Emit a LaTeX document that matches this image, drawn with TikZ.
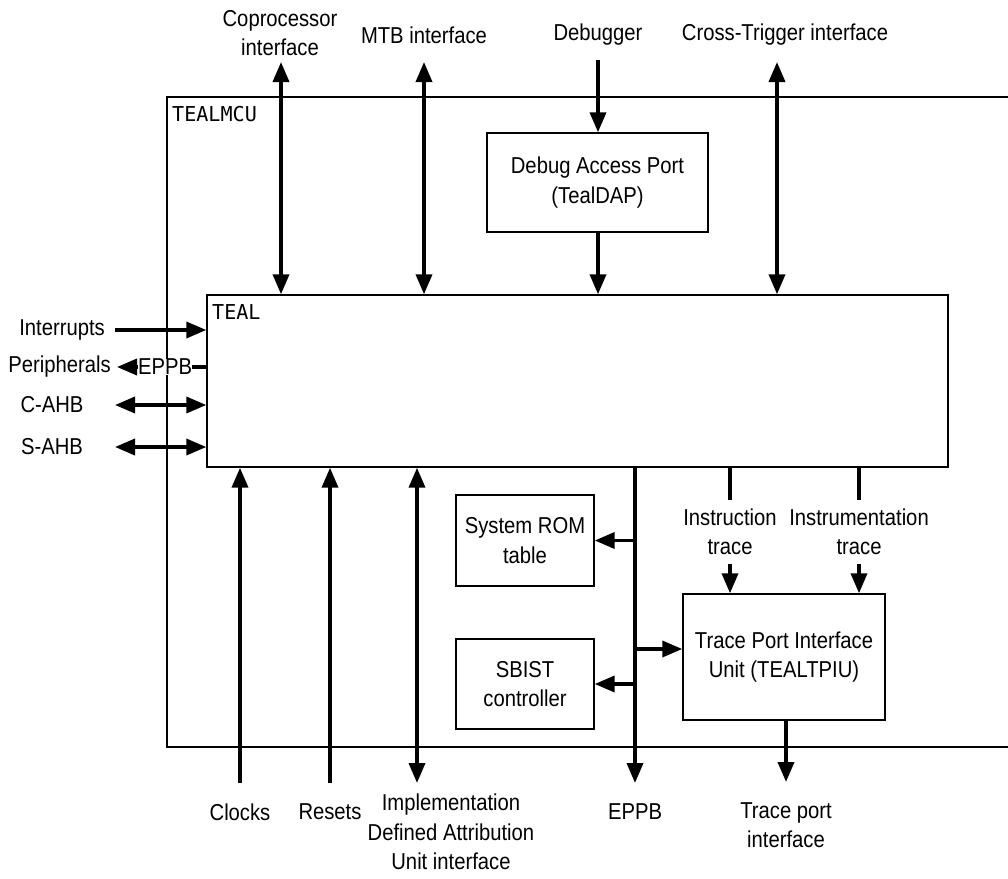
\documentclass[tikz,border=0pt]{standalone}
\usepackage{fontspec}
\setmainfont{Liberation Sans}[FakeStretch=0.88]
\newfontfamily\monofont{DejaVu Sans Mono}[FakeStretch=0.98]
\usetikzlibrary{arrows.meta}
\tikzset{
  lbl/.style={font=\fontsize{23}{29.5}\selectfont, inner sep=0pt, align=center},
  tag/.style={font=\monofont\fontsize{20.5}{22}\selectfont, inner sep=0pt, anchor=north west},
  blk/.style={draw, line width=1.4pt, inner sep=0pt, align=center,
              font=\fontsize{23}{29.5}\selectfont},
  frame/.style={line width=1.4pt},
  bus/.style={line width=3.6pt},
  tip/.style={bus, -{Triangle[length=20pt,width=16pt]}},
  dbl/.style={bus, {Triangle[length=20pt,width=16pt]}-{Triangle[length=20pt,width=16pt]}},
}
\begin{document}
\begin{tikzpicture}[x=1pt,y=-1pt]
\useasboundingbox (0,0) rectangle (1008,878);

% outer subsystem frame (open on the right)
\draw[frame] (1008,97) -- (167,97) -- (167,747) -- (1008,747);
\node[tag] (mcu) at (172,106) {TEALMCU};

% processor core
\node[blk, minimum width=741pt, minimum height=172pt] (teal) at (577.5,381) {};
\node[tag] (tealtag) at (212,304) {TEAL};

% debug access port
\node[blk, minimum width=221pt, minimum height=99pt] (dap) at (597.5,182.5) {Debug Access Port\\(TealDAP)};

% ROM table, SBIST, TPIU
\node[blk, minimum width=138pt, minimum height=91pt] (rom) at (525,540.5) {System ROM\\table};
\node[blk, minimum width=138pt, minimum height=90pt] (sbist) at (525,684) {SBIST\\controller};
\node[blk, minimum width=202pt, minimum height=126pt] (tpiu) at (784,657) {Trace Port Interface\\Unit (TEALTPIU)};

% top interfaces
\node[lbl] (copL) at (280,33) {Coprocessor\\interface};
\node[lbl] (mtbL) at (424,35) {MTB interface};
\node[lbl] (dbgL) at (598,35) {Debugger};
\node[lbl] (ctiL) at (785,35) {Cross-Trigger interface};

\coordinate (copT) at (281,62);
\coordinate (mtbT) at (424,62);
\coordinate (dbgT) at (598,60);
\coordinate (ctiT) at (777,62);

\draw[dbl] (copT) -- (copT |- teal.north);
\draw[dbl] (mtbT) -- (mtbT |- teal.north);
\draw[tip] (dbgT) -- (dbgT |- dap.north);
\draw[tip] (dbgT |- dap.south) -- (dbgT |- teal.north);
\draw[dbl] (ctiT) -- (ctiT |- teal.north);

% left interfaces
\node[lbl, anchor=east] (intL) at (105,330) {Interrupts};
\node[lbl, anchor=east] (perL) at (111,367) {Peripherals};
\node[lbl] (cahbL) at (52,405) {C-AHB};
\node[lbl] (sahbL) at (52,447) {S-AHB};

\coordinate (intE) at (115,330);
\coordinate (perE) at (117,367);
\coordinate (cahbE) at (115,405);
\coordinate (sahbE) at (115,447);

\draw[tip] (intE) -- (intE -| teal.west);
\draw[tip] (perE -| teal.west) -- (perE);
\node[lbl, fill=white, inner sep=0pt] (ppbL) at (165,367) {EPPB};
\draw[dbl] (cahbE) -- (cahbE -| teal.west);
\draw[dbl] (sahbE) -- (sahbE -| teal.west);

% bottom interfaces
\coordinate (clkB) at (240,783);
\coordinate (rstB) at (330,783);
\coordinate (idauB) at (417,783);
\coordinate (ppbB) at (635,783);
\coordinate (tpB) at (786,782);

\draw[tip] (clkB) -- (clkB |- teal.south);
\draw[tip] (rstB) -- (rstB |- teal.south);
\draw[dbl] (idauB) -- (idauB |- teal.south);
\draw[tip] (ppbB |- teal.south) -- (ppbB);
\draw[tip] (tpB |- tpiu.south) -- (tpB);

\node[lbl] (clkL) at (240,812) {Clocks};
\node[lbl] (rstL) at (330,812) {Resets};
\node[lbl] (idauL) at (451,832) {Implementation\\Defined Attribution\\Unit interface};
\node[lbl] (ppbBL) at (635,812) {EPPB};
\node[lbl] (tpL) at (786,825) {Trace port\\interface};

% EPPB branches
\coordinate (brRom) at (635,540.5);
\coordinate (brTpiu) at (635,649);
\coordinate (brSb) at (635,684);
\draw[tip] (brRom) -- (brRom -| rom.east);
\draw[tip] (brTpiu) -- (brTpiu -| tpiu.west);
\draw[tip] (brSb) -- (brSb -| sbist.east);

% trace sources
\node[lbl, minimum height=63pt] (itrL) at (730,532) {Instruction\\trace};
\node[lbl, minimum height=63pt] (stmL) at (859,532) {Instrumentation\\trace};
\draw[bus] (itrL.north |- teal.south) -- (itrL.north);
\draw[tip] (itrL.south) -- (itrL.south |- tpiu.north);
\draw[bus] (stmL.north |- teal.south) -- (stmL.north);
\draw[tip] (stmL.south) -- (stmL.south |- tpiu.north);
\end{tikzpicture}
\end{document}
